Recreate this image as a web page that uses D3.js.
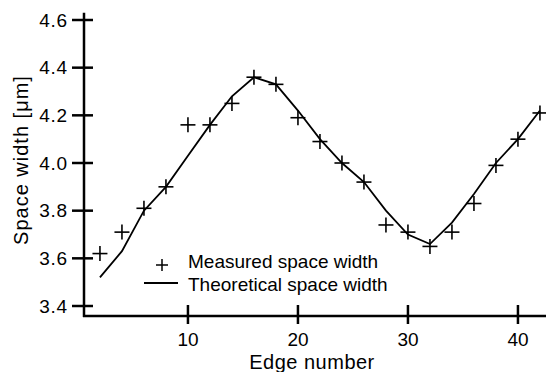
<!DOCTYPE html>
<html lang="en">
<head>
  <meta charset="UTF-8">
  <title>Space width vs edge number</title>
  <script src="https://cdnjs.cloudflare.com/ajax/libs/d3/7.8.5/d3.min.js"></script>
  <style>
    body { margin: 0; background: #fff; }
    svg { display: block; }
    text { font-family: "Liberation Sans", Arial, sans-serif; fill: #000; }
  </style>
</head>
<body>
  <svg></svg>
  <script>
    // edge numbers
    const edges = [2, 4, 6, 8, 10, 12, 14, 16, 18, 20, 22, 24, 26, 28, 30, 32, 34, 36, 38, 40, 42];
    // measured space width [um]
    const measured = [3.62, 3.71, 3.81, 3.90, 4.16, 4.16, 4.25, 4.36, 4.33, 4.19, 4.09,
      4.00, 3.92, 3.74, 3.71, 3.65, 3.71, 3.83, 3.99, 4.10, 4.21];
    // theoretical space width [um]
    const theoretical = [3.52, 3.63, 3.80, 3.90, 4.03, 4.16, 4.28, 4.36, 4.33, 4.22, 4.10,
      4.00, 3.92, 3.80, 3.70, 3.66, 3.75, 3.87, 4.00, 4.10, 4.22];
    const xTicks = [10, 20, 30, 40];
    const yTicks = [3.4, 3.6, 3.8, 4.0, 4.2, 4.4, 4.6];
    const legendLabels = ['Measured space width', 'Theoretical space width'];

    const width = 546, height = 372;
    const svg = d3.select('svg').attr('width', width).attr('height', height);

    const x = d3.scaleLinear().domain([0.55, 42.55]).range([84, 546]);
    const y = d3.scaleLinear().domain([3.4, 4.6]).range([306, 20]);

    const x0 = x.range()[0];
    const yBottom = y(3.358);

    // axes
    svg.append('line')
      .attr('x1', x0).attr('x2', x0)
      .attr('y1', y(4.63)).attr('y2', yBottom + 1)
      .style('stroke', '#000').style('stroke-width', 2.5);
    svg.append('line')
      .attr('x1', x0 - 1).attr('x2', x.range()[1])
      .attr('y1', yBottom).attr('y2', yBottom)
      .style('stroke', '#000').style('stroke-width', 2.5);

    const yt = svg.selectAll('g.ytick').data(yTicks).enter()
      .append('g').attr('class', 'ytick')
      .attr('transform', d => `translate(0,${y(d)})`);
    yt.append('line')
      .attr('x1', x0 - 12).attr('x2', x0 + 9)
      .style('stroke', '#000').style('stroke-width', 2.5);
    yt.append('text')
      .attr('x', x0 - 16).attr('dy', '0.35em')
      .attr('text-anchor', 'end')
      .style('font-size', '19px').style('letter-spacing', '0.8px')
      .text(d => d3.format('.1f')(d));

    const xt = svg.selectAll('g.xtick').data(xTicks).enter()
      .append('g').attr('class', 'xtick')
      .attr('transform', d => `translate(${x(d)},${yBottom})`);
    xt.append('line')
      .attr('y1', -11).attr('y2', 8)
      .style('stroke', '#000').style('stroke-width', 2.5);
    xt.append('text')
      .attr('y', 30)
      .attr('text-anchor', 'middle')
      .style('font-size', '19px')
      .text(d => d);

    // axis titles
    svg.append('text')
      .attr('x', 312).attr('y', 369)
      .attr('text-anchor', 'middle')
      .style('font-size', '20px').style('letter-spacing', '0.5px')
      .text('Edge number');
    svg.append('text')
      .attr('transform', 'translate(28,160) rotate(-90)')
      .attr('text-anchor', 'middle')
      .style('font-size', '20px').style('letter-spacing', '1px')
      .text('Space width [\u03bcm]');

    // theoretical curve
    const line = d3.line().x(d => x(d[0])).y(d => y(d[1]));
    svg.append('path')
      .datum(d3.zip(edges, theoretical))
      .attr('d', line)
      .style('fill', 'none').style('stroke', '#000').style('stroke-width', 1.8);

    // measured points as plus signs
    const pts = svg.selectAll('g.pt').data(d3.zip(edges, measured)).enter()
      .append('g').attr('class', 'pt')
      .attr('transform', d => `translate(${x(d[0])},${y(d[1])})`);
    pts.append('line').attr('x1', -7.5).attr('x2', 7.5)
      .style('stroke', '#000').style('stroke-width', 1.6);
    pts.append('line').attr('y1', -7.5).attr('y2', 7.5)
      .style('stroke', '#000').style('stroke-width', 1.6);

    // legend
    const lg = svg.append('g').attr('transform', 'translate(0,265)');
    lg.append('line').attr('x1', 156).attr('x2', 168).attr('y1', 0).attr('y2', 0)
      .style('stroke', '#000').style('stroke-width', 1.5);
    lg.append('line').attr('x1', 162).attr('x2', 162).attr('y1', -6).attr('y2', 6)
      .style('stroke', '#000').style('stroke-width', 1.5);
    lg.append('line').attr('x1', 144).attr('x2', 178).attr('y1', 18).attr('y2', 18)
      .style('stroke', '#000').style('stroke-width', 1.8);
    lg.selectAll('text').data(legendLabels).enter()
      .append('text')
      .attr('x', 188).attr('y', (d, i) => 3 + i * 23)
      .style('font-size', '19px')
      .text(d => d);
  </script>
</body>
</html>
